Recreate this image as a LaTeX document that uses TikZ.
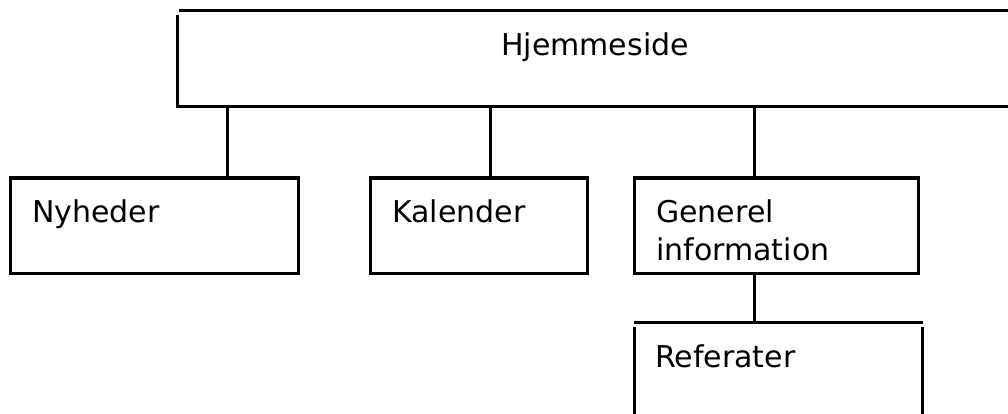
\documentclass[tikz,border=0pt]{standalone}
\usepackage{fontspec}
\setmainfont{DejaVu Sans}
\begin{document}
\begin{tikzpicture}[x=1pt,y=-1pt,
  boxline/.style={line width=3pt,draw=black},
  topline/.style={line width=3pt,draw=black},
  conn/.style={line width=3pt,draw=black},
  lbl/.style={anchor=base west,inner sep=0pt,font=\fontsize{30}{38}\selectfont,align=left}]
\useasboundingbox (0,0) rectangle (1008,414);
% top box (open on the right)
\node[inner sep=0pt,minimum width=834pt,minimum height=96pt] (hjem) at (594,58.5) {};
\draw[topline] (179,10.5) -- (1012,10.5);
\draw[topline] (177,15) -- (177,106.5) -- (1012,106.5);
\node[anchor=base,inner sep=0pt,font=\fontsize{30}{38}\selectfont] (thjem) at (595,56) {Hjemmeside};
% second row boxes
\node[boxline,inner sep=0pt,minimum width=288pt,minimum height=95pt] (nyh) at (154,225.5) {};
\node[boxline,inner sep=0pt,minimum width=217pt,minimum height=95pt] (kal) at (478.5,225.5) {};
\node[boxline,inner sep=0pt,minimum width=284pt,minimum height=95pt] (gen) at (776,225.5) {};
\node[lbl] (tnyh) at (32,222) {Nyheder};
\node[lbl] (tkal) at (392,222) {Kalender};
\node[lbl] (tgen) at (656,260) {Generel\\information};
% Referater box (open at the bottom)
\node[inner sep=0pt,minimum width=288pt,minimum height=92pt] (ref) at (778,368) {};
\draw[boxline] (634,416) -- (634,327);
\draw[topline] (634,322) -- (923,322);
\draw[boxline] (922,327) -- (922,416);
\node[lbl] (tref) at (655,367) {Referater};
% connectors
\coordinate (c1) at (227,0);
\coordinate (c2) at (490,0);
\coordinate (c3) at (754,0);
\draw[conn] (c1 |- hjem.south) -- (c1 |- nyh.north);
\draw[conn] (c2 |- hjem.south) -- (c2 |- kal.north);
\draw[conn] (c3 |- hjem.south) -- (c3 |- gen.north);
\draw[conn] (c3 |- gen.south) -- (c3 |- ref.north);
\end{tikzpicture}
\end{document}
